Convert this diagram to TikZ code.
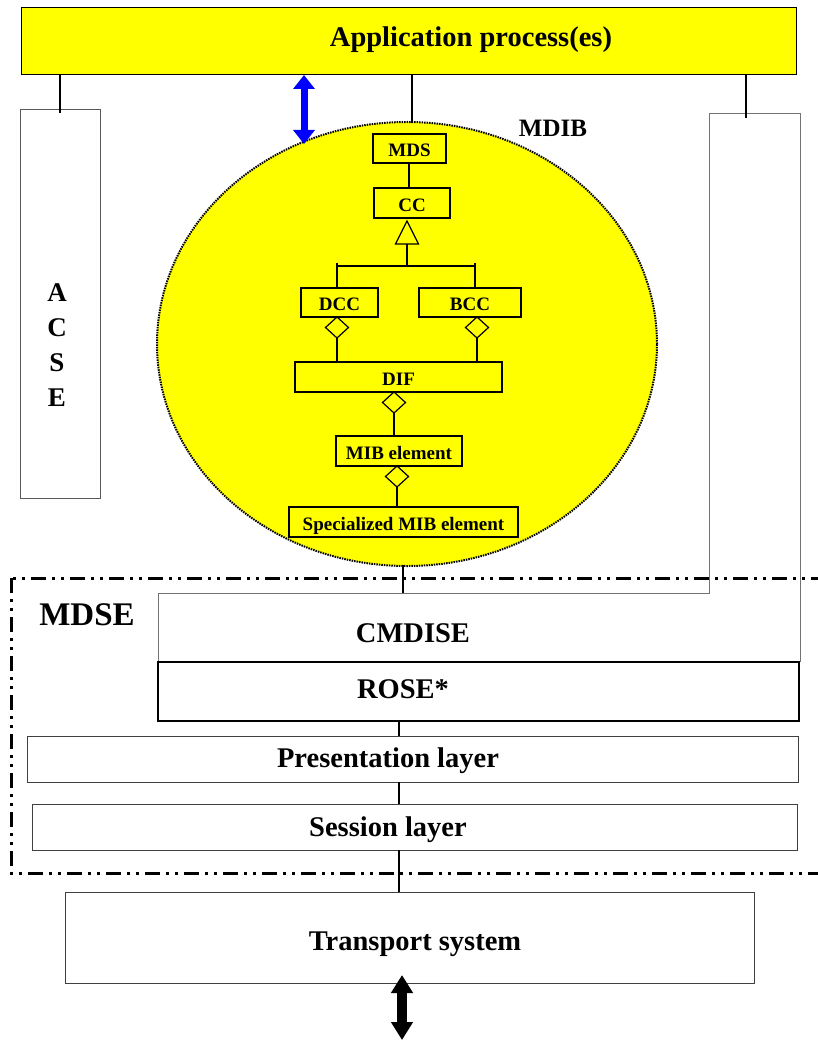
\documentclass[tikz,border=0pt]{standalone}
\usepackage{fontspec}
\setmainfont{Liberation Serif}
\usetikzlibrary{arrows.meta,shapes.geometric,calc}
\definecolor{pureyellow}{RGB}{255,255,0}
\definecolor{pureblue}{RGB}{0,0,255}
\begin{document}
\begin{tikzpicture}[x=1pt,y=-1pt,
  big/.style={font=\fontsize{28.5}{34}\selectfont\bfseries, anchor=base},
  small/.style={font=\fontsize{19}{23}\selectfont\bfseries},
  ubox/.style={draw=black, line width=1.2pt, fill=pureyellow, inner sep=0pt, outer sep=0pt, small, text height=16.6pt, text depth=0pt},
  layer/.style={draw=black!75, line width=1pt, inner sep=0pt, outer sep=0pt},
  plain/.style={inner sep=0pt, outer sep=0pt},
  dia/.style={diamond, draw=black, line width=1.2pt, inner sep=0pt, outer sep=0pt, minimum width=23pt, minimum height=21pt, fill=pureyellow},
  conn/.style={line width=1.2pt},
  thickconn/.style={line width=2.5pt},
  grayline/.style={draw=black!55, line width=1pt},
]
\useasboundingbox (0,0) rectangle (817,1040);

% MDSE boundary
\draw[line width=3pt, dash pattern=on 15pt off 6pt on 3pt off 6pt on 3pt off 6pt] (11,578) rectangle (845,873);
\node[plain, font=\fontsize{33}{38}\selectfont\bfseries, anchor=base] (mdse) at (87,625) {MDSE};

% Application process box
\node[draw=black, line width=1pt, fill=pureyellow, plain, minimum width=775pt, minimum height=67pt] (app) at (408.5,41.5) {};
\node[plain, big] (apptext) at (471,47) {Application process(es)};

% ACSE
\node[draw=black!65, line width=1pt, plain, minimum width=80pt, minimum height=388pt] (acse) at (60,304) {};
\node[plain, font=\fontsize{27}{35}\selectfont\bfseries, align=center] (acsetext) at (57,345) {A\\C\\S\\E};

% right box and CMDISE (invisible frames, drawn as one outline)
\node[plain, minimum width=91pt, minimum height=479pt] (rbox) at (754.5,353.5) {};
\node[plain, minimum width=642pt, minimum height=69pt] (cmdise) at (479,627.5) {};
\draw[grayline] (cmdise.south west) -- (cmdise.north west) -- (rbox.south west) -- (rbox.north west) -- (rbox.north east) -- (cmdise.south east);
\node[plain, big] (cmdisetext) at (413,642) {CMDISE};

% ROSE and lower layers
\node[draw=black, line width=2pt, plain, minimum width=641pt, minimum height=59pt] (rose) at (478.5,691.5) {};
\node[plain, big] (rosetext) at (403,698) {ROSE*};
\node[layer, minimum width=771pt, minimum height=46pt] (pres) at (412.5,759) {};
\node[plain, big] (prestext) at (388,767) {Presentation layer};
\node[layer, minimum width=765pt, minimum height=46pt] (sess) at (414.5,827) {};
\node[plain, big] (sesstext) at (388,836) {Session layer};
\node[layer, minimum width=689pt, minimum height=91pt] (trans) at (409.5,937.5) {};
\node[plain, big] (transtext) at (415,950) {Transport system};

\coordinate (col) at (399,0);
\draw[line width=2pt] (rose.south -| col) -- (pres.north -| col);
\draw[line width=2pt] (pres.south -| col) -- (sess.north -| col);
\draw[line width=2pt] (sess.south -| col) -- (trans.north -| col);

% MDIB ellipse
\node[ellipse, draw=black, line width=2pt, dash pattern=on 1.5pt off 1pt, fill=pureyellow, plain, minimum width=500pt, minimum height=444pt] (mdib) at (407,344) {};
\node[plain, font=\fontsize{25}{30}\selectfont\bfseries, anchor=base] (mdibtext) at (553,137) {MDIB};

% connectors from application box
\draw[thickconn] (app.south -| acse.north) -- ([yshift=-3pt]acse.north);
\coordinate (ctop) at (412,123);
\draw[thickconn] (app.south -| ctop) -- (ctop);
\coordinate (rtop) at (746,118);
\draw[thickconn] (app.south -| rtop) -- (rtop);
\coordinate (bluex) at (304,144);
\draw[pureblue, line width=7pt, {Triangle[length=14pt,width=21pt]}-{Triangle[length=14pt,width=21pt]}] (app.south -| bluex) -- (bluex);

% ellipse to CMDISE
\coordinate (ebot) at (403,565);
\draw[line width=1.6pt] (ebot) -- (cmdise.north -| ebot);

% transport arrow
\coordinate (tarr) at (402,1040);
\draw[black, line width=10pt, {Triangle[length=18pt,width=21pt]}-{Triangle[length=18pt,width=21pt]}] ([yshift=8pt]trans.south -| tarr) -- (tarr);

% inner class diagram
\node[ubox, minimum width=73pt, minimum height=29pt] (mds) at (409.5,148.5) {MDS};
\node[ubox, minimum width=76pt, minimum height=30pt] (cc) at (412,203) {CC};
\draw[conn] (mds.south -| 409,0) -- (cc.north -| 409,0);
\coordinate (tribase) at (407,244);
\draw[conn, fill=pureyellow] (tribase) ++(-11.5,0) -- (407,221) -- ($(tribase)+(11.5,0)$) -- cycle;
\coordinate (hbar) at (407,266);
\draw[conn] (tribase) -- (hbar);
\node[ubox, minimum width=77pt, minimum height=29pt] (dcc) at (339.5,302.5) {DCC};
\node[ubox, minimum width=102pt, minimum height=29pt] (bcc) at (470,302.5) {BCC};
\draw[conn] (337,263) -- (337,266) -- (475,266) -- (475,263);
\draw[conn] (337,266) -- (dcc.north -| 337,0);
\draw[conn] (475,266) -- (bcc.north -| 475,0);
\node[dia, anchor=north] (d1) at (337,317) {};
\node[dia, anchor=north] (d2) at (477,317) {};
\node[ubox, minimum width=207pt, minimum height=30pt] (dif) at (398.5,377) {DIF};
\draw[conn] (d1.south) -- (d1.south |- dif.north);
\draw[conn] (d2.south) -- (d2.south |- dif.north);
\node[dia, anchor=north] (d3) at (394,392) {};
\node[ubox, minimum width=126pt, minimum height=30pt] (mib) at (399,451) {MIB element};
\draw[conn] (d3.south) -- (d3.south |- mib.north);
\node[dia, anchor=north] (d4) at (397,466) {};
\node[ubox, minimum width=229pt, minimum height=30pt] (spec) at (403.5,522) {Specialized MIB element};
\draw[conn] (d4.south) -- (d4.south |- spec.north);
\end{tikzpicture}
\end{document}
